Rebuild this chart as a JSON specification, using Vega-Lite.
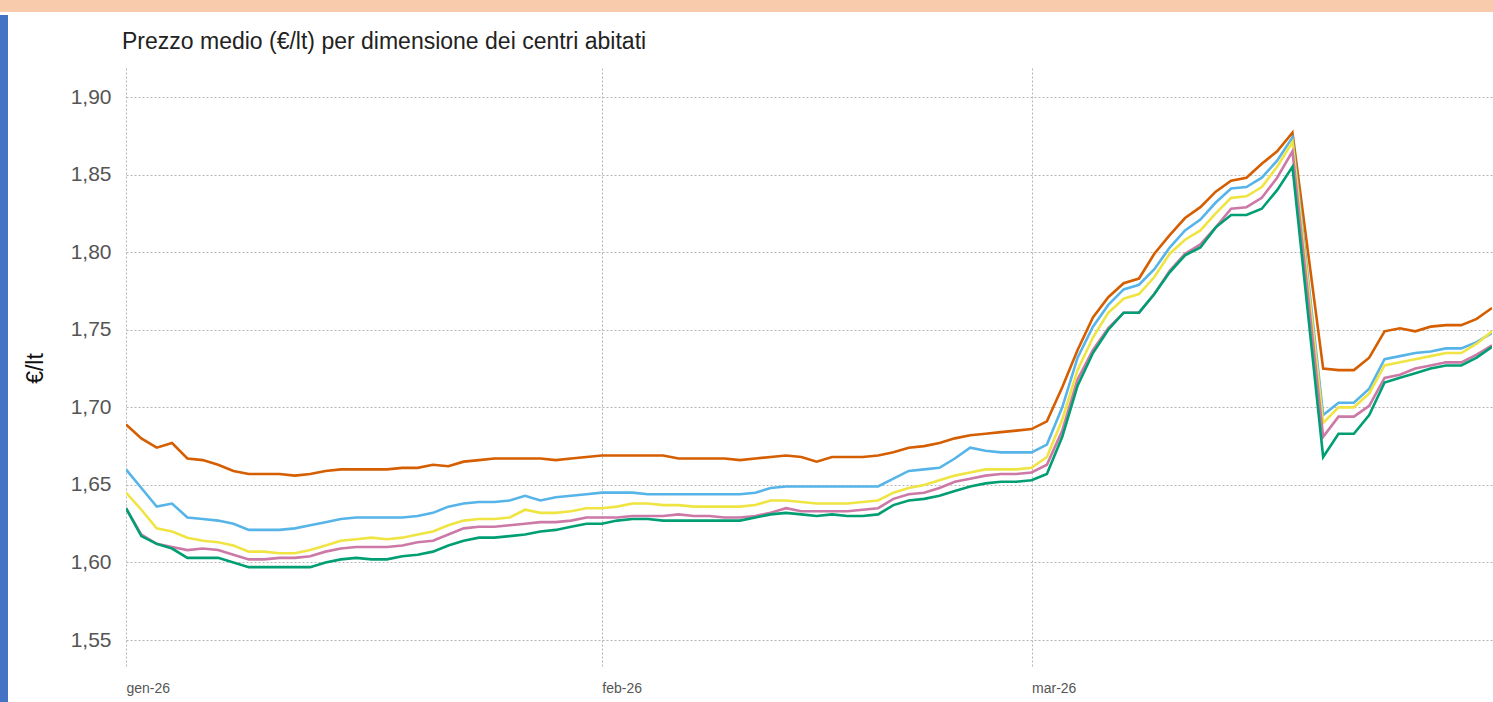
{
  "$schema": "https://vega.github.io/schema/vega-lite/v6.json",
  "background": "white",
  "padding": 0,
  "config": {"view": {"stroke": null}, "font": "Liberation Sans"},
  "spacing": 0,
  "vconcat": [
    {"width": 1493, "height": 12, "view": {"fill": "#F8CBAD", "stroke": null}, "data": {"values": [{}]}, "mark": {"type": "point", "opacity": 0}},
    {
      "spacing": 16,
      "hconcat": [
        {"width": 8, "height": 690, "view": {"fill": "#4472C4", "stroke": null}, "data": {"values": [{}]}, "mark": {"type": "point", "opacity": 0}},
        {
          "spacing": 12,
          "vconcat": [
            {"width": 10, "height": 1, "view": {"fill": null, "stroke": null}, "data": {"values": [{}]}, "mark": {"type": "point", "opacity": 0}},
            {
              "width": 1366,
              "height": 600,
              "title": {"text": "Prezzo medio (€/lt) per dimensione dei centri abitati", "anchor": "start", "frame": "group", "fontSize": 23, "fontWeight": "normal", "color": "#222222", "offset": 14, "dx": -4},
              "data": {"values": [
                {"data": "2026-01-01", "fino5mila": 1.689, "da5a20mila": 1.660, "da20a100mila": 1.645, "da100a250mila": 1.635, "oltre250mila": 1.635},
                {"data": "2026-01-02", "fino5mila": 1.680, "da5a20mila": 1.648, "da20a100mila": 1.634, "da100a250mila": 1.618, "oltre250mila": 1.617},
                {"data": "2026-01-03", "fino5mila": 1.674, "da5a20mila": 1.636, "da20a100mila": 1.622, "da100a250mila": 1.612, "oltre250mila": 1.612},
                {"data": "2026-01-04", "fino5mila": 1.677, "da5a20mila": 1.638, "da20a100mila": 1.620, "da100a250mila": 1.610, "oltre250mila": 1.609},
                {"data": "2026-01-05", "fino5mila": 1.667, "da5a20mila": 1.629, "da20a100mila": 1.616, "da100a250mila": 1.608, "oltre250mila": 1.603},
                {"data": "2026-01-06", "fino5mila": 1.666, "da5a20mila": 1.628, "da20a100mila": 1.614, "da100a250mila": 1.609, "oltre250mila": 1.603},
                {"data": "2026-01-07", "fino5mila": 1.663, "da5a20mila": 1.627, "da20a100mila": 1.613, "da100a250mila": 1.608, "oltre250mila": 1.603},
                {"data": "2026-01-08", "fino5mila": 1.659, "da5a20mila": 1.625, "da20a100mila": 1.611, "da100a250mila": 1.605, "oltre250mila": 1.600},
                {"data": "2026-01-09", "fino5mila": 1.657, "da5a20mila": 1.621, "da20a100mila": 1.607, "da100a250mila": 1.602, "oltre250mila": 1.597},
                {"data": "2026-01-10", "fino5mila": 1.657, "da5a20mila": 1.621, "da20a100mila": 1.607, "da100a250mila": 1.602, "oltre250mila": 1.597},
                {"data": "2026-01-11", "fino5mila": 1.657, "da5a20mila": 1.621, "da20a100mila": 1.606, "da100a250mila": 1.603, "oltre250mila": 1.597},
                {"data": "2026-01-12", "fino5mila": 1.656, "da5a20mila": 1.622, "da20a100mila": 1.606, "da100a250mila": 1.603, "oltre250mila": 1.597},
                {"data": "2026-01-13", "fino5mila": 1.657, "da5a20mila": 1.624, "da20a100mila": 1.608, "da100a250mila": 1.604, "oltre250mila": 1.597},
                {"data": "2026-01-14", "fino5mila": 1.659, "da5a20mila": 1.626, "da20a100mila": 1.611, "da100a250mila": 1.607, "oltre250mila": 1.600},
                {"data": "2026-01-15", "fino5mila": 1.660, "da5a20mila": 1.628, "da20a100mila": 1.614, "da100a250mila": 1.609, "oltre250mila": 1.602},
                {"data": "2026-01-16", "fino5mila": 1.660, "da5a20mila": 1.629, "da20a100mila": 1.615, "da100a250mila": 1.610, "oltre250mila": 1.603},
                {"data": "2026-01-17", "fino5mila": 1.660, "da5a20mila": 1.629, "da20a100mila": 1.616, "da100a250mila": 1.610, "oltre250mila": 1.602},
                {"data": "2026-01-18", "fino5mila": 1.660, "da5a20mila": 1.629, "da20a100mila": 1.615, "da100a250mila": 1.610, "oltre250mila": 1.602},
                {"data": "2026-01-19", "fino5mila": 1.661, "da5a20mila": 1.629, "da20a100mila": 1.616, "da100a250mila": 1.611, "oltre250mila": 1.604},
                {"data": "2026-01-20", "fino5mila": 1.661, "da5a20mila": 1.630, "da20a100mila": 1.618, "da100a250mila": 1.613, "oltre250mila": 1.605},
                {"data": "2026-01-21", "fino5mila": 1.663, "da5a20mila": 1.632, "da20a100mila": 1.620, "da100a250mila": 1.614, "oltre250mila": 1.607},
                {"data": "2026-01-22", "fino5mila": 1.662, "da5a20mila": 1.636, "da20a100mila": 1.624, "da100a250mila": 1.618, "oltre250mila": 1.611},
                {"data": "2026-01-23", "fino5mila": 1.665, "da5a20mila": 1.638, "da20a100mila": 1.627, "da100a250mila": 1.622, "oltre250mila": 1.614},
                {"data": "2026-01-24", "fino5mila": 1.666, "da5a20mila": 1.639, "da20a100mila": 1.628, "da100a250mila": 1.623, "oltre250mila": 1.616},
                {"data": "2026-01-25", "fino5mila": 1.667, "da5a20mila": 1.639, "da20a100mila": 1.628, "da100a250mila": 1.623, "oltre250mila": 1.616},
                {"data": "2026-01-26", "fino5mila": 1.667, "da5a20mila": 1.640, "da20a100mila": 1.629, "da100a250mila": 1.624, "oltre250mila": 1.617},
                {"data": "2026-01-27", "fino5mila": 1.667, "da5a20mila": 1.643, "da20a100mila": 1.634, "da100a250mila": 1.625, "oltre250mila": 1.618},
                {"data": "2026-01-28", "fino5mila": 1.667, "da5a20mila": 1.640, "da20a100mila": 1.632, "da100a250mila": 1.626, "oltre250mila": 1.620},
                {"data": "2026-01-29", "fino5mila": 1.666, "da5a20mila": 1.642, "da20a100mila": 1.632, "da100a250mila": 1.626, "oltre250mila": 1.621},
                {"data": "2026-01-30", "fino5mila": 1.667, "da5a20mila": 1.643, "da20a100mila": 1.633, "da100a250mila": 1.627, "oltre250mila": 1.623},
                {"data": "2026-01-31", "fino5mila": 1.668, "da5a20mila": 1.644, "da20a100mila": 1.635, "da100a250mila": 1.629, "oltre250mila": 1.625},
                {"data": "2026-02-01", "fino5mila": 1.669, "da5a20mila": 1.645, "da20a100mila": 1.635, "da100a250mila": 1.629, "oltre250mila": 1.625},
                {"data": "2026-02-02", "fino5mila": 1.669, "da5a20mila": 1.645, "da20a100mila": 1.636, "da100a250mila": 1.629, "oltre250mila": 1.627},
                {"data": "2026-02-03", "fino5mila": 1.669, "da5a20mila": 1.645, "da20a100mila": 1.638, "da100a250mila": 1.630, "oltre250mila": 1.628},
                {"data": "2026-02-04", "fino5mila": 1.669, "da5a20mila": 1.644, "da20a100mila": 1.638, "da100a250mila": 1.630, "oltre250mila": 1.628},
                {"data": "2026-02-05", "fino5mila": 1.669, "da5a20mila": 1.644, "da20a100mila": 1.637, "da100a250mila": 1.630, "oltre250mila": 1.627},
                {"data": "2026-02-06", "fino5mila": 1.667, "da5a20mila": 1.644, "da20a100mila": 1.637, "da100a250mila": 1.631, "oltre250mila": 1.627},
                {"data": "2026-02-07", "fino5mila": 1.667, "da5a20mila": 1.644, "da20a100mila": 1.636, "da100a250mila": 1.630, "oltre250mila": 1.627},
                {"data": "2026-02-08", "fino5mila": 1.667, "da5a20mila": 1.644, "da20a100mila": 1.636, "da100a250mila": 1.630, "oltre250mila": 1.627},
                {"data": "2026-02-09", "fino5mila": 1.667, "da5a20mila": 1.644, "da20a100mila": 1.636, "da100a250mila": 1.629, "oltre250mila": 1.627},
                {"data": "2026-02-10", "fino5mila": 1.666, "da5a20mila": 1.644, "da20a100mila": 1.636, "da100a250mila": 1.629, "oltre250mila": 1.627},
                {"data": "2026-02-11", "fino5mila": 1.667, "da5a20mila": 1.645, "da20a100mila": 1.637, "da100a250mila": 1.630, "oltre250mila": 1.629},
                {"data": "2026-02-12", "fino5mila": 1.668, "da5a20mila": 1.648, "da20a100mila": 1.640, "da100a250mila": 1.632, "oltre250mila": 1.631},
                {"data": "2026-02-13", "fino5mila": 1.669, "da5a20mila": 1.649, "da20a100mila": 1.640, "da100a250mila": 1.635, "oltre250mila": 1.632},
                {"data": "2026-02-14", "fino5mila": 1.668, "da5a20mila": 1.649, "da20a100mila": 1.639, "da100a250mila": 1.633, "oltre250mila": 1.631},
                {"data": "2026-02-15", "fino5mila": 1.665, "da5a20mila": 1.649, "da20a100mila": 1.638, "da100a250mila": 1.633, "oltre250mila": 1.630},
                {"data": "2026-02-16", "fino5mila": 1.668, "da5a20mila": 1.649, "da20a100mila": 1.638, "da100a250mila": 1.633, "oltre250mila": 1.631},
                {"data": "2026-02-17", "fino5mila": 1.668, "da5a20mila": 1.649, "da20a100mila": 1.638, "da100a250mila": 1.633, "oltre250mila": 1.630},
                {"data": "2026-02-18", "fino5mila": 1.668, "da5a20mila": 1.649, "da20a100mila": 1.639, "da100a250mila": 1.634, "oltre250mila": 1.630},
                {"data": "2026-02-19", "fino5mila": 1.669, "da5a20mila": 1.649, "da20a100mila": 1.640, "da100a250mila": 1.635, "oltre250mila": 1.631},
                {"data": "2026-02-20", "fino5mila": 1.671, "da5a20mila": 1.654, "da20a100mila": 1.645, "da100a250mila": 1.641, "oltre250mila": 1.637},
                {"data": "2026-02-21", "fino5mila": 1.674, "da5a20mila": 1.659, "da20a100mila": 1.648, "da100a250mila": 1.644, "oltre250mila": 1.640},
                {"data": "2026-02-22", "fino5mila": 1.675, "da5a20mila": 1.660, "da20a100mila": 1.650, "da100a250mila": 1.645, "oltre250mila": 1.641},
                {"data": "2026-02-23", "fino5mila": 1.677, "da5a20mila": 1.661, "da20a100mila": 1.653, "da100a250mila": 1.648, "oltre250mila": 1.643},
                {"data": "2026-02-24", "fino5mila": 1.680, "da5a20mila": 1.667, "da20a100mila": 1.656, "da100a250mila": 1.652, "oltre250mila": 1.646},
                {"data": "2026-02-25", "fino5mila": 1.682, "da5a20mila": 1.674, "da20a100mila": 1.658, "da100a250mila": 1.654, "oltre250mila": 1.649},
                {"data": "2026-02-26", "fino5mila": 1.683, "da5a20mila": 1.672, "da20a100mila": 1.660, "da100a250mila": 1.656, "oltre250mila": 1.651},
                {"data": "2026-02-27", "fino5mila": 1.684, "da5a20mila": 1.671, "da20a100mila": 1.660, "da100a250mila": 1.657, "oltre250mila": 1.652},
                {"data": "2026-02-28", "fino5mila": 1.685, "da5a20mila": 1.671, "da20a100mila": 1.660, "da100a250mila": 1.657, "oltre250mila": 1.652},
                {"data": "2026-03-01", "fino5mila": 1.686, "da5a20mila": 1.671, "da20a100mila": 1.661, "da100a250mila": 1.658, "oltre250mila": 1.653},
                {"data": "2026-03-02", "fino5mila": 1.691, "da5a20mila": 1.676, "da20a100mila": 1.668, "da100a250mila": 1.663, "oltre250mila": 1.657},
                {"data": "2026-03-03", "fino5mila": 1.713, "da5a20mila": 1.700, "da20a100mila": 1.692, "da100a250mila": 1.685, "oltre250mila": 1.681},
                {"data": "2026-03-04", "fino5mila": 1.737, "da5a20mila": 1.732, "da20a100mila": 1.724, "da100a250mila": 1.718, "oltre250mila": 1.714},
                {"data": "2026-03-05", "fino5mila": 1.758, "da5a20mila": 1.752, "da20a100mila": 1.745, "da100a250mila": 1.737, "oltre250mila": 1.735},
                {"data": "2026-03-06", "fino5mila": 1.771, "da5a20mila": 1.766, "da20a100mila": 1.761, "da100a250mila": 1.751, "oltre250mila": 1.750},
                {"data": "2026-03-07", "fino5mila": 1.780, "da5a20mila": 1.776, "da20a100mila": 1.770, "da100a250mila": 1.761, "oltre250mila": 1.761},
                {"data": "2026-03-08", "fino5mila": 1.783, "da5a20mila": 1.779, "da20a100mila": 1.773, "da100a250mila": 1.761, "oltre250mila": 1.761},
                {"data": "2026-03-09", "fino5mila": 1.799, "da5a20mila": 1.789, "da20a100mila": 1.784, "da100a250mila": 1.773, "oltre250mila": 1.773},
                {"data": "2026-03-10", "fino5mila": 1.811, "da5a20mila": 1.803, "da20a100mila": 1.799, "da100a250mila": 1.788, "oltre250mila": 1.787},
                {"data": "2026-03-11", "fino5mila": 1.822, "da5a20mila": 1.814, "da20a100mila": 1.808, "da100a250mila": 1.799, "oltre250mila": 1.798},
                {"data": "2026-03-12", "fino5mila": 1.829, "da5a20mila": 1.821, "da20a100mila": 1.814, "da100a250mila": 1.805, "oltre250mila": 1.803},
                {"data": "2026-03-13", "fino5mila": 1.839, "da5a20mila": 1.832, "da20a100mila": 1.825, "da100a250mila": 1.816, "oltre250mila": 1.816},
                {"data": "2026-03-14", "fino5mila": 1.846, "da5a20mila": 1.841, "da20a100mila": 1.835, "da100a250mila": 1.828, "oltre250mila": 1.824},
                {"data": "2026-03-15", "fino5mila": 1.848, "da5a20mila": 1.842, "da20a100mila": 1.836, "da100a250mila": 1.829, "oltre250mila": 1.824},
                {"data": "2026-03-16", "fino5mila": 1.857, "da5a20mila": 1.848, "da20a100mila": 1.842, "da100a250mila": 1.835, "oltre250mila": 1.828},
                {"data": "2026-03-17", "fino5mila": 1.865, "da5a20mila": 1.859, "da20a100mila": 1.855, "da100a250mila": 1.848, "oltre250mila": 1.840},
                {"data": "2026-03-18", "fino5mila": 1.877, "da5a20mila": 1.874, "da20a100mila": 1.871, "da100a250mila": 1.865, "oltre250mila": 1.855},
                {"data": "2026-03-20", "fino5mila": 1.725, "da5a20mila": 1.695, "da20a100mila": 1.690, "da100a250mila": 1.681, "oltre250mila": 1.668},
                {"data": "2026-03-21", "fino5mila": 1.724, "da5a20mila": 1.703, "da20a100mila": 1.700, "da100a250mila": 1.694, "oltre250mila": 1.683},
                {"data": "2026-03-22", "fino5mila": 1.724, "da5a20mila": 1.703, "da20a100mila": 1.700, "da100a250mila": 1.694, "oltre250mila": 1.683},
                {"data": "2026-03-23", "fino5mila": 1.732, "da5a20mila": 1.712, "da20a100mila": 1.709, "da100a250mila": 1.701, "oltre250mila": 1.695},
                {"data": "2026-03-24", "fino5mila": 1.749, "da5a20mila": 1.731, "da20a100mila": 1.727, "da100a250mila": 1.719, "oltre250mila": 1.716},
                {"data": "2026-03-25", "fino5mila": 1.751, "da5a20mila": 1.733, "da20a100mila": 1.729, "da100a250mila": 1.721, "oltre250mila": 1.719},
                {"data": "2026-03-26", "fino5mila": 1.749, "da5a20mila": 1.735, "da20a100mila": 1.731, "da100a250mila": 1.725, "oltre250mila": 1.722},
                {"data": "2026-03-27", "fino5mila": 1.752, "da5a20mila": 1.736, "da20a100mila": 1.733, "da100a250mila": 1.727, "oltre250mila": 1.725},
                {"data": "2026-03-28", "fino5mila": 1.753, "da5a20mila": 1.738, "da20a100mila": 1.735, "da100a250mila": 1.729, "oltre250mila": 1.727},
                {"data": "2026-03-29", "fino5mila": 1.753, "da5a20mila": 1.738, "da20a100mila": 1.735, "da100a250mila": 1.729, "oltre250mila": 1.727},
                {"data": "2026-03-30", "fino5mila": 1.757, "da5a20mila": 1.742, "da20a100mila": 1.741, "da100a250mila": 1.734, "oltre250mila": 1.732},
                {"data": "2026-03-31", "fino5mila": 1.764, "da5a20mila": 1.748, "da20a100mila": 1.749, "da100a250mila": 1.740, "oltre250mila": 1.739}
              ]},
              "transform": [
                {"fold": ["fino5mila", "da5a20mila", "da20a100mila", "da100a250mila", "oltre250mila"], "as": ["serie", "prezzo"]},
                {"filter": "isValid(datum.prezzo)"}
              ],
              "mark": {"type": "line", "strokeWidth": 2.6, "clip": true},
              "encoding": {
                "x": {
                  "field": "data", "type": "temporal",
                  "scale": {"type": "utc", "domain": [{"year": 2026, "month": 1, "date": 1, "utc": true}, {"year": 2026, "month": 3, "date": 31, "utc": true}]},
                  "axis": {
                    "title": null,
                    "values": [{"year": 2026, "month": 1, "date": 1, "utc": true}, {"year": 2026, "month": 2, "date": 1, "utc": true}, {"year": 2026, "month": 3, "date": 1, "utc": true}],
                    "labelExpr": "['gen','feb','mar','apr'][utcmonth(datum.value)] + '-26'",
                    "labelAlign": "left", "labelFontSize": 14, "labelColor": "#555555", "labelPadding": 13,
                    "ticks": false, "domain": false,
                    "grid": true, "gridDash": [2, 2], "gridColor": "#b5b5b5", "gridWidth": 1
                  }
                },
                "y": {
                  "field": "prezzo", "type": "quantitative",
                  "scale": {"domain": [1.532, 1.9187], "nice": false, "zero": false},
                  "axis": {
                    "title": "€/lt", "titleFontSize": 23, "titleFontWeight": "normal", "titleColor": "#111111", "titlePadding": 27,
                    "values": [1.55, 1.6, 1.65, 1.7, 1.75, 1.8, 1.85, 1.9],
                    "labelExpr": "replace(format(datum.value, '.2f'), '.', ',')",
                    "labelFontSize": 21, "labelColor": "#555555", "labelPadding": 15,
                    "minExtent": 52, "maxExtent": 52,
                    "ticks": false, "domain": false,
                    "grid": true, "gridDash": [2, 2], "gridColor": "#b5b5b5", "gridWidth": 1
                  }
                },
                "color": {
                  "field": "serie", "type": "nominal",
                  "scale": {"domain": ["fino5mila", "da5a20mila", "da20a100mila", "da100a250mila", "oltre250mila"], "range": ["#D55E00", "#56B4E9", "#F0E442", "#CC79A7", "#009E73"]},
                  "legend": null
                }
              }
            }
          ]
        }
      ]
    }
  ]
}
